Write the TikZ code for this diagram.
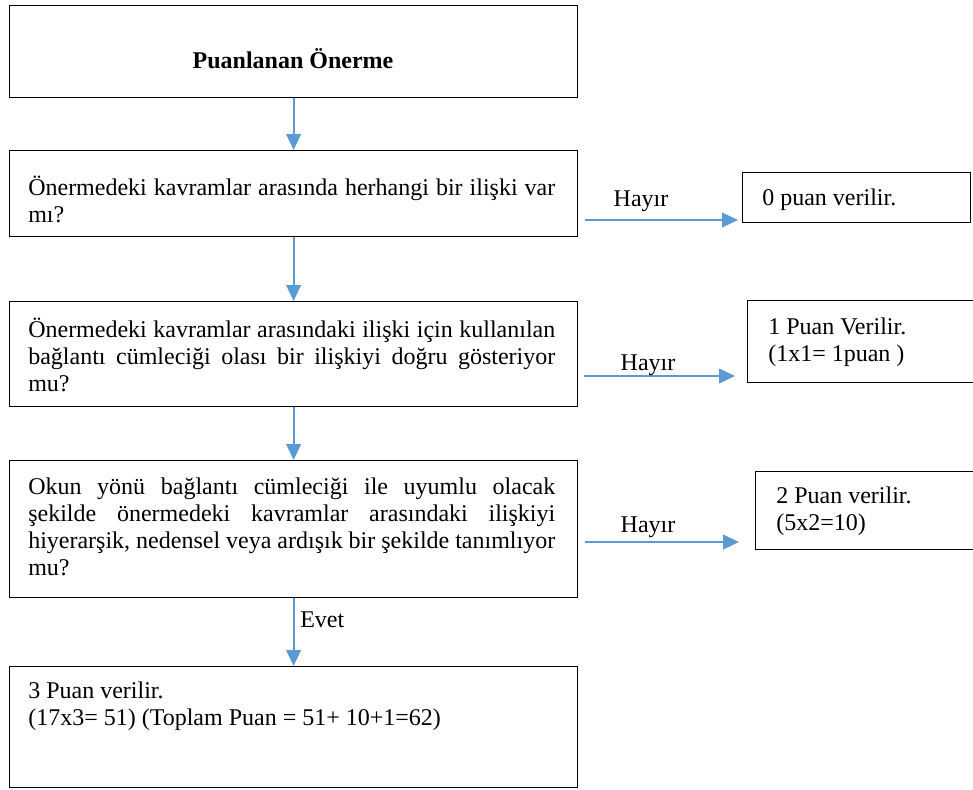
\documentclass[tikz,border=0pt]{standalone}
\usepackage{fontspec}
\setmainfont{Liberation Serif}
\usetikzlibrary{arrows.meta,calc}

\definecolor{okmavi}{RGB}{91,155,213}

\tikzset{
    kutu/.style 2 args={draw, line width=0.9pt, anchor=north west, inner sep=0pt,
        minimum width=#1*0.75pt, minimum height=#2*0.75pt},
    yazi/.style={anchor=base west, inner sep=0pt, font=\fontsize{18pt}{20.25pt}\selectfont},
    paragraf/.style={yazi, text width=395.25pt, align=justify},
    satirlar/.style={yazi, text width=#1*0.75pt, align=flush left},
    ok/.style={draw=okmavi, line width=1.5pt, -{Triangle[length=12pt,width=11pt]}},
}

\begin{document}
\begin{tikzpicture}[x=0.75pt, y=-0.75pt]

    % sayfa sınırı (piksel koordinatları, y aşağı)
    \useasboundingbox (0,0) rectangle (973,789);
    \clip (0,0) rectangle (973,789);

    % 1. sol sütundaki kutular
    \node[kutu={568}{92}]  (A) at (9,5)   {};
    \node[kutu={568}{86}]  (B) at (9,150) {};
    \node[kutu={568}{105}] (C) at (9,301) {};
    \node[kutu={568}{137}] (D) at (9,460) {};
    \node[kutu={568}{121}] (E) at (9,666) {};

    % 2. sağdaki puan kutuları
    \node[kutu={228}{50}] (B0) at (742,172) {};
    \node[kutu={240}{82}] (C1) at (747,300) {};
    \node[kutu={240}{78}] (D2) at (755,471) {};

    % 3. kutu yazıları
    \node[yazi, anchor=base, font=\fontsize{18pt}{20.25pt}\selectfont\bfseries] (tA) at (293,68) {Puanlanan Önerme};
    \node[paragraf] (tB) at (28,195) {Önermedeki kavramlar arasında herhangi bir ilişki var\linebreak mı?};
    \node[paragraf] (tC) at (28,337) {Önermedeki kavramlar arasındaki ilişki için kullanılan\linebreak
        bağlantı cümleciği olası bir ilişkiyi doğru gösteriyor\linebreak mu?};
    \node[paragraf] (tD) at (28,494) {Okun yönü bağlantı cümleciği ile uyumlu olacak\linebreak
        şekilde önermedeki kavramlar arasındaki ilişkiyi\linebreak
        hiyerarşik, nedensel veya ardışık bir şekilde tanımlıyor\linebreak mu?};
    \node[satirlar=527] (tE) at (28,698) {3 Puan verilir.\\(17x3= 51) (Toplam Puan = 51+ 10+1=62)};

    \node[yazi] (tB0) at (762,205) {0 puan verilir.};
    \node[satirlar=200] (tC1) at (768,334) {1 Puan Verilir.\\(1x1= 1puan )};
    \node[satirlar=190] (tD2) at (776,503) {2 Puan verilir.\\(5x2=10)};

    % 4. dikey oklar
    \draw[ok] (A.south) -- (B.north);
    \draw[ok] (B.south) -- (C.north);
    \draw[ok] (C.south) -- (D.north);
    \draw[ok] (D.south) -- (E.north);
    \node[yazi] (evet) at (300,627) {Evet};

    % 5. yatay "Hayır" okları
    \coordinate (hB) at (585,220);
    \coordinate (hC) at (584,376);
    \coordinate (hD) at (585,542);
    \draw[ok, shorten >=3pt]  (hB) -- (hB -| B0.west);
    \draw[ok, shorten >=9pt]  (hC) -- (hC -| C1.west);
    \draw[ok, shorten >=12pt] (hD) -- (hD -| D2.west);
    \node[yazi, anchor=base] (hayirB) at (641,206) {Hayır};
    \node[yazi, anchor=base] (hayirC) at (648,370) {Hayır};
    \node[yazi, anchor=base] (hayirD) at (648,532) {Hayır};

\end{tikzpicture}
\end{document}
